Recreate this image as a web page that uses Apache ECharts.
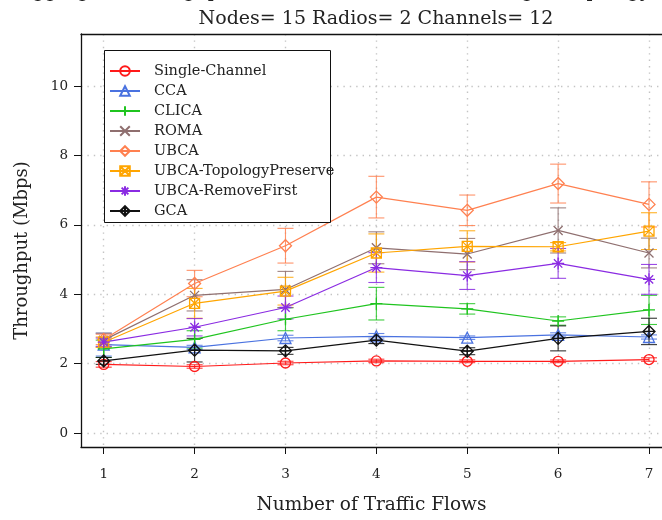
<!DOCTYPE html>
<html>
<head>
<meta charset="utf-8">
<script src="https://cdn.jsdelivr.net/npm/echarts@6/dist/echarts.min.js"></script>
<style>
  html, body { margin: 0; padding: 0; background: #fff; }
  #chart { width: 662px; height: 520px; }
</style>
</head>
<body>
<div id="chart"></div>
<script>
// Number of traffic flows (x axis)
const flows = [1, 2, 3, 4, 5, 6, 7];
const xTicks = [1, 2, 3, 4, 5, 6, 7];
const yTicks = [0, 2, 4, 6, 8, 10];

const seriesNames = ['Single-Channel', 'CCA', 'CLICA', 'ROMA', 'UBCA',
  'UBCA-TopologyPreserve', 'UBCA-RemoveFirst', 'GCA'];

// Mean throughput (Mbps) per algorithm
const singleChannel = [1.98, 1.92, 2.02, 2.08, 2.07, 2.07, 2.12];
const cca           = [2.55, 2.47, 2.74, 2.79, 2.75, 2.83, 2.77];
const clica         = [2.43, 2.70, 3.28, 3.73, 3.58, 3.23, 3.55];
const roma          = [2.68, 3.97, 4.14, 5.34, 5.16, 5.84, 5.19];
const ubca          = [2.70, 4.31, 5.40, 6.80, 6.42, 7.19, 6.59];
const ubcaTopo      = [2.62, 3.74, 4.09, 5.19, 5.38, 5.37, 5.82];
const ubcaRemove    = [2.62, 3.05, 3.62, 4.77, 4.54, 4.89, 4.43];
const gca           = [2.08, 2.39, 2.37, 2.68, 2.36, 2.73, 2.93];

// Error bar half-widths (Mbps)
const singleChannelErr = [0.08, 0.05, 0.05, 0.05, 0.04, 0.04, 0.05];
const ccaErr           = [0.33, 0.06, 0.08, 0.08, 0.05, 0.06, 0.06];
const clicaErr         = [0.25, 0.25, 0.33, 0.47, 0.15, 0.12, 0.42];
const romaErr          = [0.20, 0.45, 0.52, 0.46, 0.45, 0.65, 0.43];
const ubcaErr          = [0.15, 0.38, 0.50, 0.60, 0.44, 0.56, 0.65];
const ubcaTopoErr      = [0.15, 0.43, 0.40, 0.55, 0.45, 0.12, 0.53];
const ubcaRemoveErr    = [0.12, 0.25, 0.33, 0.43, 0.40, 0.43, 0.43];
const gcaErr           = [0.10, 0.34, 0.10, 0.10, 0.10, 0.36, 0.38];

const values = [singleChannel, cca, clica, roma, ubca, ubcaTopo, ubcaRemove, gca];
const errors = [singleChannelErr, ccaErr, clicaErr, romaErr, ubcaErr, ubcaTopoErr, ubcaRemoveErr, gcaErr];

const colors = ['#ff1a1a', '#4a72e0', '#1fc41f', '#8f6f6f', '#ff8050',
  '#ffa500', '#8a2be2', '#111111'];

// Marker outlines (stroked only)
const symbols = [
  'circle',
  'triangle',
  'path://M5,0 L5,10 M0,5 L10,5',
  'path://M0,0 L10,10 M10,0 L0,10',
  'path://M5,0 L10,5 L5,10 L0,5 Z',
  'path://M0,0 L10,0 L10,10 L0,10 Z M0,0 L10,10 M10,0 L0,10',
  'path://M5,0 L5,10 M0,5 L10,5 M1.5,1.5 L8.5,8.5 M8.5,1.5 L1.5,8.5',
  'path://M5,0 L10,5 L5,10 L0,5 Z M5,0 L5,10 M0,5 L10,5'
];
const symbolSizes = [10, 11, 12, 9, 12, 10, 12, 12];

const FONT = 'DejaVu Serif';

const lineSeries = seriesNames.map((name, k) => ({
  name: name,
  type: 'line',
  data: flows.map((x, i) => [x, values[k][i]]),
  symbol: symbols[k],
  symbolSize: symbolSizes[k],
  showSymbol: true,
  clip: false,
  z: 3,
  lineStyle: { color: colors[k], width: 1.2 },
  itemStyle: { color: 'rgba(255,255,255,0)', borderColor: colors[k], borderWidth: 1.3 },
  emphasis: { disabled: true }
}));

const errorSeries = seriesNames.map((name, k) => ({
  type: 'custom',
  clip: false,
  z: 2,
  silent: true,
  data: flows.map((x, i) => [x, values[k][i] - errors[k][i], values[k][i] + errors[k][i]]),
  encode: { x: 0, y: [1, 2] },
  renderItem: function (params, api) {
    const x = api.value(0);
    const lo = api.coord([x, api.value(1)]);
    const hi = api.coord([x, api.value(2)]);
    const hw = 8;
    const st = { stroke: colors[k], lineWidth: 1.1, opacity: 0.85 };
    return {
      type: 'group',
      children: [
        { type: 'line', shape: { x1: lo[0], y1: lo[1], x2: hi[0], y2: hi[1] }, style: st },
        { type: 'line', shape: { x1: lo[0] - hw, y1: lo[1], x2: lo[0] + hw, y2: lo[1] }, style: st },
        { type: 'line', shape: { x1: hi[0] - hw, y1: hi[1], x2: hi[0] + hw, y2: hi[1] }, style: st }
      ]
    };
  }
}));

const frameLine = { show: true, onZero: false, lineStyle: { color: '#111', width: 1.3 } };
const gridDots = { show: true, lineStyle: { color: '#c4c4c4', width: 1.4, type: [1.4, 5] } };

const chart = echarts.init(document.getElementById('chart'), null, { renderer: 'canvas' });
chart.setOption({
  animation: false,
  backgroundColor: '#ffffff',
  grid: { left: 81, top: 34, right: 0, bottom: 72 },
  xAxis: [{
    type: 'value',
    min: 0.75, max: 7.143,
    splitNumber: 5,
    name: 'Number of Traffic Flows',
    nameLocation: 'middle',
    nameGap: 49,
    nameTextStyle: { fontFamily: FONT, fontSize: 18.5, color: '#222' },
    axisLine: frameLine,
    axisTick: { show: true, length: 7, customValues: xTicks, lineStyle: { color: '#111', width: 1 } },
    axisLabel: { customValues: xTicks, margin: 20,
      fontFamily: FONT, fontSize: 13.5, color: '#222' },
    splitLine: gridDots
  }, {
    // top edge of the plot frame
    type: 'value',
    position: 'top',
    min: 0.75, max: 7.143,
    axisLine: frameLine,
    axisTick: { show: false },
    axisLabel: { show: false },
    splitLine: { show: false }
  }],
  yAxis: {
    type: 'value',
    min: -0.4, max: 11.5,
    splitNumber: 5,
    name: 'Throughput (Mbps)',
    nameLocation: 'middle',
    nameGap: 50,
    nameTextStyle: { fontFamily: FONT, fontSize: 18, color: '#222', padding: [0, 20, 0, 0] },
    axisLine: frameLine,
    axisTick: { show: true, length: 7, customValues: yTicks, lineStyle: { color: '#111', width: 1 } },
    axisLabel: { customValues: yTicks, margin: 13,
      fontFamily: FONT, fontSize: 13.5, color: '#222' },
    splitLine: gridDots
  },
  legend: {
    data: seriesNames,
    orient: 'vertical',
    left: 104, top: 50,
    padding: [11, 5, 2, 5],
    itemWidth: 30, itemHeight: 12, itemGap: 0,
    backgroundColor: 'rgba(0,0,0,0)',
    borderWidth: 0,
    z: 6,
    textStyle: { fontFamily: FONT, fontSize: 14.5, color: '#222', lineHeight: 20, padding: [0, 0, 0, 9] },
    selectedMode: false
  },
  graphic: [
    // legend frame
    { type: 'rect', z: 5, shape: { x: 104.5, y: 50.5, width: 226, height: 172 },
      style: { fill: '#fff', stroke: '#111', lineWidth: 1 }, silent: true },
    // title lines
    { type: 'text', z: 5, x: 19, y: -8,
      style: { text: 'Aggregate Throughput vs Number of Traffic Flows (grid topology)',
        font: '19px "DejaVu Serif"', fill: '#222', align: 'left', verticalAlign: 'middle' } },
    { type: 'text', z: 5, x: 376, y: 19,
      style: { text: 'Nodes= 15 Radios= 2 Channels= 12',
        font: '19px "DejaVu Serif"', fill: '#222', align: 'center', verticalAlign: 'middle' } }
  ],
  series: errorSeries.concat(lineSeries)
});
</script>
</body>
</html>
